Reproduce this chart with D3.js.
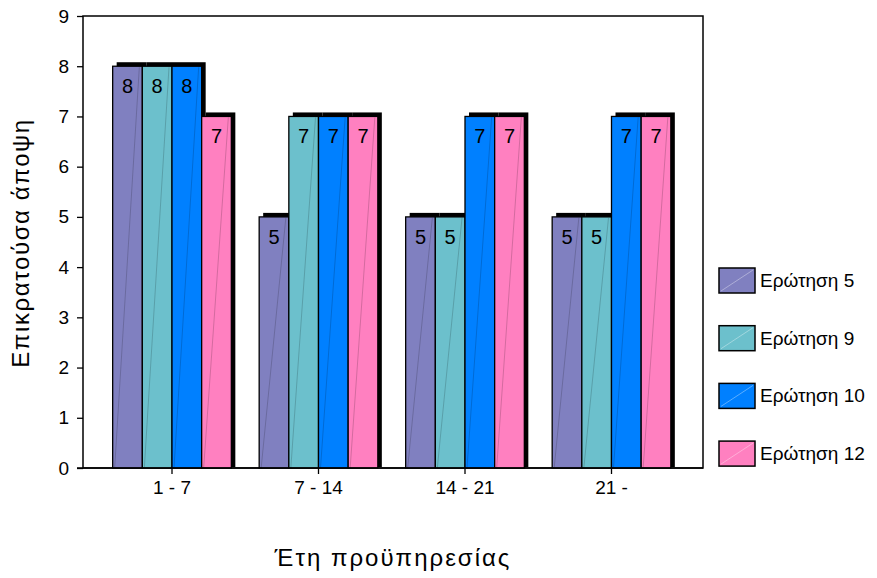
<!DOCTYPE html>
<html><head><meta charset="utf-8">
<script src="https://cdn.jsdelivr.net/npm/d3@7"></script>
<style>body{margin:0;background:#fff}svg{display:block}text{font-family:Arial,"Liberation Sans",sans-serif}</style>
</head><body><svg id="c" width="877" height="578"></svg>
<script>
const categories = ["1 - 7", "7 - 14", "14 - 21", "21 -"];
const seriesNames = ["Ερώτηση 5", "Ερώτηση 9", "Ερώτηση 10", "Ερώτηση 12"];
const q5  = [8, 5, 5, 5];
const q9  = [8, 7, 5, 5];
const q10 = [8, 7, 7, 7];
const q12 = [7, 7, 7, 7];
const seriesValues = [q5, q9, q10, q12];
const colors = ["#8080c0", "#6cc0cc", "#0080ff", "#ff80c0"];
const yTicks = [0,1,2,3,4,5,6,7,8,9];
const yTitle = "Επικρατούσα άποψη";
const xTitle = "Έτη προϋπηρεσίας";

const svg = d3.select("#c");
const L = 83, R = 703, T = 16, B = 468;
const y = d3.scaleLinear().domain([0, 9]).range([B, T]);
const x0 = d3.scaleBand().domain(categories).range([98.75, 684.75]).paddingInner(0.19).paddingOuter(0.095);
const x1 = d3.scaleBand().domain(seriesNames).range([0, x0.bandwidth()]).padding(0);

// frame
svg.append("rect").attr("x", L).attr("y", T).attr("width", R - L).attr("height", B - T)
  .attr("fill", "none").attr("stroke", "#000").attr("stroke-width", 1.5);

const off = 4;
categories.forEach((c, ci) => {
  const g = svg.append("g").attr("transform", `translate(${x0(c)},0)`);
  seriesNames.forEach((s, si) => {
    const v = seriesValues[si][ci];
    g.append("rect").attr("x", x1(s) + off).attr("y", y(v) - off)
      .attr("width", x1.bandwidth()).attr("height", B - y(v) + off - 1)
      .attr("fill", "#000");
  });
  seriesNames.forEach((s, si) => {
    const v = seriesValues[si][ci];
    const bx = x1(s), bw = x1.bandwidth();
    g.append("rect").attr("x", bx).attr("y", y(v))
      .attr("width", bw).attr("height", B - y(v))
      .attr("fill", colors[si]).attr("stroke", "#000").attr("stroke-width", 1.3);
    g.append("line").attr("x1", bx + 2).attr("y1", B).attr("x2", bx + bw - 3).attr("y2", y(v) + 1)
      .attr("stroke", "#000").attr("stroke-opacity", 0.22).attr("stroke-width", 0.8);
    g.append("text").attr("x", bx + bw / 2).attr("y", y(v) + 27)
      .attr("text-anchor", "middle").attr("font-size", 20).attr("fill", "#000").text(v);
  });
});

// y axis
const ya = svg.append("g").attr("transform", `translate(${L},0)`)
  .call(d3.axisLeft(y).tickValues(yTicks).tickSize(6).tickPadding(8).tickFormat(d3.format("d")));
ya.select(".domain").remove();
ya.selectAll("line").attr("stroke", "#000").attr("stroke-width", 1.3);
ya.selectAll("text").attr("font-size", 19).attr("fill", "#000").attr("font-family", "Arial, 'Liberation Sans', sans-serif");

// x axis
const xa = svg.append("g").attr("transform", `translate(0,${B})`)
  .call(d3.axisBottom(x0).tickSize(6).tickPadding(7));
xa.select(".domain").remove();
xa.selectAll("line").attr("stroke", "#000").attr("stroke-width", 1.3);
xa.selectAll("text").attr("font-size", 19).attr("fill", "#000").attr("font-family", "Arial, 'Liberation Sans', sans-serif");
svg.append("line").attr("x1", 77).attr("x2", R).attr("y1", B).attr("y2", B).attr("stroke", "#000").attr("stroke-width", 1.5);

// titles
svg.append("text").attr("transform", `translate(29,243) rotate(-90)`)
  .attr("text-anchor", "middle").attr("font-size", 24).attr("letter-spacing", 1.6).attr("fill", "#000").text(yTitle);
svg.append("text").attr("x", 393).attr("y", 566).attr("text-anchor", "middle")
  .attr("font-size", 24).attr("letter-spacing", 2).attr("fill", "#000").text(xTitle);

// legend
seriesNames.forEach((s, i) => {
  const ly = 268 + i * 57.7;
  svg.append("rect").attr("x", 719).attr("y", ly).attr("width", 36).attr("height", 25)
    .attr("fill", colors[i]).attr("stroke", "#000").attr("stroke-width", 1.5);
  svg.append("line").attr("x1", 721).attr("y1", ly + 23).attr("x2", 753).attr("y2", ly + 2)
    .attr("stroke", "#fff").attr("stroke-opacity", 0.45).attr("stroke-width", 0.8);
  svg.append("text").attr("x", 760).attr("y", ly + 19).attr("font-size", 19).attr("fill", "#000").text(s);
});
</script></body></html>
